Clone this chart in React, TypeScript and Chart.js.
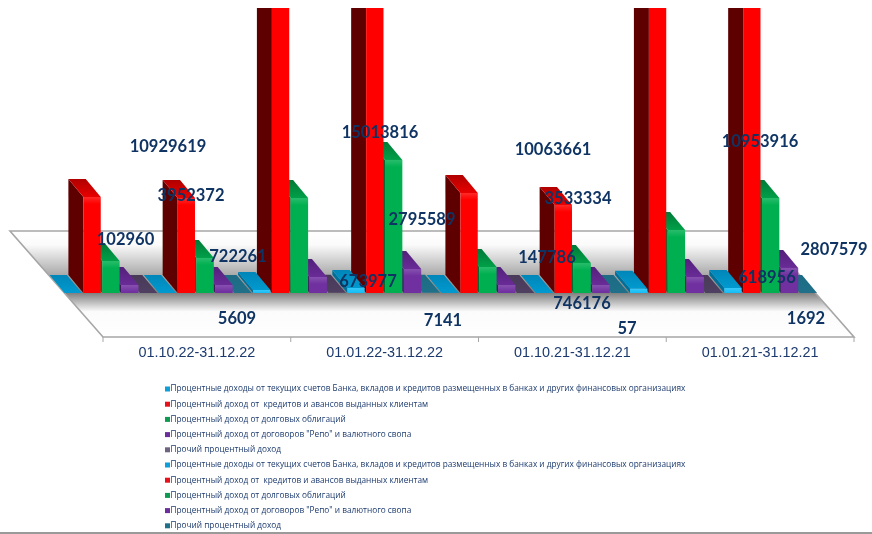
import React, { useEffect, useRef } from "react";
import { Chart, registerables } from "chart.js";

Chart.register(...registerables);

const categories = ["01.10.22-31.12.22", "01.01.22-31.12.22", "01.10.21-31.12.21", "01.01.21-31.12.21"];

const seriesNames = [
  "Процентные доходы от текущих счетов Банка, вкладов и кредитов размещенных в банках и других финансовых организациях",
  "Процентный доход от  кредитов и авансов выданных клиентам",
  "Процентный доход от долговых облигаций",
  'Процентный доход от договоров "Репо" и валютного свопа',
  "Прочий процентный доход",
];

const accountsA = [0, 102960, 0, 147786];
const loansA = [3370000, 10929619, 3510000, 10063661];
const bondsA = [1120000, 3330000, 910000, 2210000];
const repoA = [280000, 560000, 280000, 560000];
const otherA = [0, 5609, 0, 57];
const accountsB = [0, 175000, 0, 175000];
const loansB = [3330000, 15013816, 3090000, 10953916];
const bondsB = [1230000, 4670000, 1050000, 3330000];
const repoB = [280000, 840000, 280000, 880000];
const otherB = [0, 7141, 0, 1692];

const printedValues = [
  "10929619", "15013816", "10063661", "10953916",
  "3952372", "2795589", "3533334", "2807579",
  "102960", "673977", "147786", "618956",
  "722261", "746176",
  "5609", "7141", "57", "1692",
];

// placement of the printed values (centre x, centre y), same order as printedValues
const VALUE_SPOTS: [number, number][] = [
  [168, 147], [380, 133], [553, 150], [760, 142],
  [191, 196], [422, 220], [578, 199], [834, 250],
  [125.5, 240], [368, 282], [547, 258], [767, 278],
  [238, 257], [582, 304],
  [237, 319], [443, 321], [627, 329], [806, 319],
];

const FRONT = ["#12bdf7", "#ff0000", "#00b050", "#7030a0", "#5a4a6a", "#12bdf7", "#ff0000", "#00b050", "#7030a0", "#2a7f99"];
const SIDE = ["#006f99", "#5f0000", "#006b30", "#43185f", "#3a2c48", "#006f99", "#5f0000", "#006b30", "#43185f", "#16566c"];
const TOP_BACK = ["#0086b8", "#b00000", "#007a38", "#52207a", "#4a3a5a", "#0086b8", "#b00000", "#007a38", "#52207a", "#1d6b84"];
const TOP_FRONT = ["#009ad0", "#e80000", "#00a048", "#6a2c98", "#4f3f60", "#009ad0", "#e80000", "#00a048", "#6a2c98", "#20708a"];
const LEGEND_SWATCH = ["#0f9ed5", "#e8111a", "#0f9a52", "#6b2f9c", "#6f6480", "#0f9ed5", "#e8111a", "#0f9a52", "#6b2f9c", "#1f7088"];

const DEPTH_X = 15;
const DEPTH_Y = 18;
const FLOOR_LEFT = 103;
const FLOOR_WIDTH = 751;
const FLOOR_TOP = 231;
const FLOOR_BOTTOM = 337;
const FLOOR_SKEW = 93;
const NAVY = "#0f3463";
const TEXT = "#1c3a6e";

const poly = (ctx: CanvasRenderingContext2D, pts: number[][]) => {
  ctx.beginPath();
  pts.forEach((p, i) => (i ? ctx.lineTo(p[0], p[1]) : ctx.moveTo(p[0], p[1])));
  ctx.closePath();
};

const floorPlugin = {
  id: "floor",
  beforeDatasetsDraw(chart: any) {
    const { ctx } = chart;
    const pts = [
      [FLOOR_LEFT - FLOOR_SKEW, FLOOR_TOP],
      [FLOOR_LEFT - FLOOR_SKEW + FLOOR_WIDTH, FLOOR_TOP],
      [FLOOR_LEFT + FLOOR_WIDTH, FLOOR_BOTTOM],
      [FLOOR_LEFT, FLOOR_BOTTOM],
    ];
    ctx.save();
    poly(ctx, pts);
    const g = ctx.createLinearGradient(0, FLOOR_TOP, 0, FLOOR_BOTTOM);
    g.addColorStop(0, "#ffffff");
    g.addColorStop(0.13, "#fbfbfb");
    g.addColorStop(0.42, "#a8a8a8");
    g.addColorStop(0.585, "#7f7f7f");
    g.addColorStop(0.6, "#8a8a8a");
    g.addColorStop(0.76, "#fbfbfb");
    g.addColorStop(1, "#ffffff");
    ctx.fillStyle = g;
    ctx.fill();
    ctx.strokeStyle = "#a6a6a6";
    ctx.lineWidth = 1.6;
    ctx.stroke();
    ctx.beginPath();
    for (let i = 0; i <= categories.length; i++) {
      const x = FLOOR_LEFT + (FLOOR_WIDTH * i) / categories.length;
      ctx.moveTo(x, FLOOR_BOTTOM);
      ctx.lineTo(x, FLOOR_BOTTOM + 5);
    }
    ctx.lineWidth = 1;
    ctx.stroke();
    ctx.restore();
  },
  beforeDatasetDraw(chart: any, args: any) {
    const { ctx, chartArea } = chart;
    const i = args.index;
    const meta = chart.getDatasetMeta(i);
    ctx.save();
    ctx.beginPath();
    ctx.rect(0, chartArea.top, chart.width, chart.height);
    ctx.clip();
    meta.data.forEach((el: any) => {
      const x0 = el.x - el.width / 2;
      const x1 = el.x + el.width / 2;
      const yt = el.y;
      const yb = el.base;
      if (yb - yt > 0.5) {
        poly(ctx, [[x0, yt], [x0 - DEPTH_X, yt - DEPTH_Y], [x0 - DEPTH_X, yb - DEPTH_Y], [x0, yb]]);
        ctx.fillStyle = SIDE[i];
        ctx.fill();
      }
      poly(ctx, [[x0, yt], [x1, yt], [x1 - DEPTH_X, yt - DEPTH_Y], [x0 - DEPTH_X, yt - DEPTH_Y]]);
      const g = ctx.createLinearGradient(0, yt - DEPTH_Y, 0, yt);
      g.addColorStop(0, TOP_BACK[i]);
      g.addColorStop(1, TOP_FRONT[i]);
      ctx.fillStyle = g;
      ctx.fill();
    });
    ctx.restore();
  },
  afterDatasetDraw(chart: any, args: any) {
    const { ctx, chartArea } = chart;
    const meta = chart.getDatasetMeta(args.index);
    ctx.save();
    ctx.beginPath();
    ctx.rect(0, chartArea.top, chart.width, chart.height);
    ctx.clip();
    meta.data.forEach((el: any) => {
      const h = Math.min(7, el.base - el.y);
      if (h < 1 || el.y < chartArea.top) return;
      const g = ctx.createLinearGradient(0, el.y, 0, el.y + h);
      g.addColorStop(0, "rgba(255,255,255,0.16)");
      g.addColorStop(1, "rgba(255,255,255,0)");
      ctx.fillStyle = g;
      ctx.fillRect(el.x - el.width / 2, el.y, el.width, h);
    });
    ctx.restore();
  },
  afterDraw(chart: any) {
    const { ctx } = chart;
    ctx.save();
    ctx.textBaseline = "middle";
    ctx.textAlign = "center";
    ctx.fillStyle = TEXT;
    ctx.font = "14.4px 'Liberation Sans'";
    categories.forEach((c, i) =>
      ctx.fillText(c, FLOOR_LEFT + (FLOOR_WIDTH * (i + 0.5)) / categories.length, 353.5)
    );

    ctx.font = "bold 16.5px Lato";
    ctx.fillStyle = NAVY;
    printedValues.forEach((t, i) => ctx.fillText(t, VALUE_SPOTS[i][0], VALUE_SPOTS[i][1]));

    ctx.textAlign = "left";
    ctx.font = "8.27px 'Open Sans'";
    chart.data.datasets.forEach((d: any, i: number) => {
      const y = 389 + i * 15.2;
      ctx.fillStyle = LEGEND_SWATCH[i];
      ctx.fillRect(165, y - 2.5, 5, 5);
      ctx.fillStyle = TEXT;
      ctx.fillText(d.label, 170.5, y);
    });

    ctx.fillStyle = "#9a9a9a";
    ctx.fillRect(0, 532, chart.width, 2);
    ctx.restore();
  },
};

export default function App() {
  const ref = useRef<HTMLCanvasElement>(null);
  useEffect(() => {
    const values = [accountsA, loansA, bondsA, repoA, otherA, accountsB, loansB, bondsB, repoB, otherB];
    const chart = new Chart(ref.current!, {
      type: "bar",
      data: {
        labels: categories,
        datasets: values.map((data, i) => ({
          label: seriesNames[i % 5],
          data,
          backgroundColor: FRONT[i],
          categoryPercentage: 1,
          barPercentage: 0.92,
        })),
      },
      options: {
        responsive: false,
        animation: false,
        devicePixelRatio: 1,
        layout: { padding: { left: 63.8, right: 54.2, top: 8, bottom: 241 } },
        scales: {
          x: { display: false },
          y: { display: false, min: 0, max: 10000000 },
        },
        plugins: { legend: { display: false }, tooltip: { enabled: false }, title: { display: false } },
      },
      plugins: [floorPlugin],
    } as any);
    return () => chart.destroy();
  }, []);
  return (
    <div style={{ position: "fixed", left: 0, top: 0, width: 872, height: 534, background: "#fff" }}>
      <canvas ref={ref} width={872} height={534} style={{ display: "block" }} />
    </div>
  );
}
